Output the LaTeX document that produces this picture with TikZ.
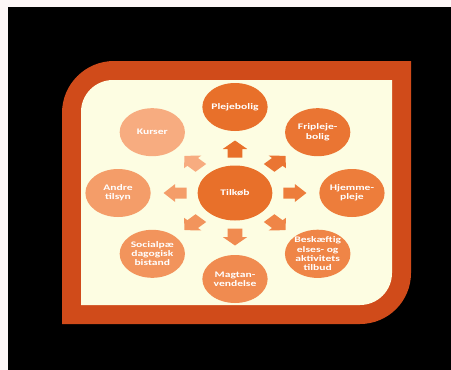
\documentclass[tikz,border=0pt]{standalone}
\usepackage{fontspec}
\setmainfont{Carlito}
\definecolor{pagewhite}{HTML}{FDF7F7}
\definecolor{framec}{HTML}{D04B1A}
\definecolor{creamc}{HTML}{FDFDE2}
\definecolor{cA}{HTML}{E8702A}
\definecolor{cB}{HTML}{EA7533}
\definecolor{cC}{HTML}{ED7D3B}
\definecolor{cD}{HTML}{EF8547}
\definecolor{cE}{HTML}{F08B50}
\definecolor{cF}{HTML}{F2945C}
\definecolor{cG}{HTML}{F49D69}
\definecolor{cH}{HTML}{F7AC80}
\tikzset{
  bubble/.style={circle, minimum size=48pt, inner sep=0pt, text=white, align=center,
    font=\bfseries\fontsize{8.5}{9.2}\selectfont},
  hub/.style={bubble, minimum size=55pt},
}
\begin{document}
\begin{tikzpicture}[x=1pt,y=-1pt]
\useasboundingbox (0,0) rectangle (451,370);
\fill[pagewhite] (0,0) rectangle (451,370);
\fill[black] (8,7) rectangle (451,370);
% frame
\fill[framec] (62,324) -- (62,113) .. controls (62,84.3) and (85.3,61) .. (114,61)
  -- (411,61) -- (411,273) .. controls (411,301.2) and (388.2,324) .. (360,324) -- cycle;
\fill[creamc] (81,305) -- (81,112) .. controls (81,94.3) and (95.3,80) .. (113,80)
  -- (392,80) -- (392,273) .. controls (392,290.7) and (377.7,305) .. (360,305) -- cycle;
\begin{scope}[shift={(235,193)}, xscale=1.36, transform shape]
  \node[hub, fill=cA] (hub) at (0,0) {Tilkøb};
  \node[bubble, fill=cA] (plejebolig) at (-90:86) {Plejebolig};
  \node[bubble, fill=cB] (fripleje) at (-45:86) {Fripleje-\\bolig};
  \node[bubble, fill=cC] (hjemme) at (0:86) {Hjemme-\\pleje};
  \node[bubble, fill=cD] (beskaeft) at (45:86) {Beskæftig\\elses- og\\aktivitets\\tilbud};
  \node[bubble, fill=cE] (magt) at (90:86) {Magtan-\\vendelse};
  \node[bubble, fill=cF] (social) at (135:86) {Socialpæ\\dagogisk\\bistand};
  \node[bubble, fill=cG] (andre) at (180:86) {Andre\\tilsyn};
  \node[bubble, fill=cH] (kurser) at (225:86) {Kurser};
  \foreach \a/\c in {-90/cA,-45/cB,0/cC,45/cD,90/cE,135/cF,180/cG,225/cH}{
    \begin{scope}[shift={(\a:44)}, rotate=-\a]
      \fill[\c] (-8.5,-5.5) -- (0,-5.5) -- (0,-9) -- (8.5,0) -- (0,9) -- (0,5.5) -- (-8.5,5.5) -- cycle;
    \end{scope}
  }
\end{scope}
\end{tikzpicture}
\end{document}
